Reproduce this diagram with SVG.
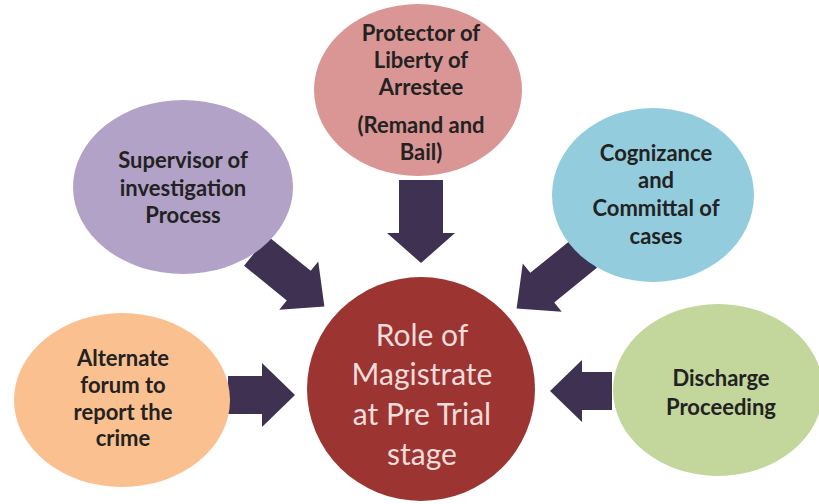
<svg xmlns="http://www.w3.org/2000/svg" width="819" height="504" viewBox="0 0 819 504">
<style>
.arrow{fill:#3F3151}
.lbl{font-family:Lato,"Liberation Sans",sans-serif;font-weight:bold;font-size:22px;fill:#222222;text-anchor:middle}
.ctr{font-family:Lato,"Liberation Sans",sans-serif;font-size:30px;fill:#F2DCDB;text-anchor:middle}
</style>
<rect width="819" height="504" fill="#FFFFFF"/>
<g id="connectors">
<path class="arrow" transform="translate(421,180) rotate(90)" d="M0,-22 L53,-22 L53,-34 L83,0 L53,34 L53,22 L0,22 Z"/>
<path class="arrow" transform="translate(256,251) rotate(39)" d="M0,-19 L55,-19 L55,-31 L88,0 L55,31 L55,19 L0,19 Z"/>
<path class="arrow" transform="translate(585,253) rotate(141)" d="M0,-19 L55,-19 L55,-31 L88,0 L55,31 L55,19 L0,19 Z"/>
<path class="arrow" transform="translate(228,395)" d="M0,-19 L34,-19 L34,-32 L67,0 L34,32 L34,19 L0,19 Z"/>
<path class="arrow" transform="translate(612,391) rotate(180)" d="M0,-19 L30,-19 L30,-31 L62,0 L30,31 L30,19 L0,19 Z"/>
</g>
<g id="node-protector">
<ellipse cx="418" cy="90" rx="104" ry="86" fill="#D99694"/>
<text class="lbl" x="421" y="41">Protector of</text>
<text class="lbl" x="421" y="68">Liberty of</text>
<text class="lbl" x="421" y="95">Arrestee</text>
<text class="lbl" x="421" y="133">(Remand and</text>
<text class="lbl" x="421" y="160">Bail)</text>
</g>
<g id="node-supervisor">
<ellipse cx="183" cy="187" rx="110" ry="87" fill="#B3A2C7"/>
<text class="lbl" x="183" y="168">Supervisor of</text>
<text class="lbl" x="183" y="196">investigation</text>
<text class="lbl" x="183" y="223">Process</text>
</g>
<g id="node-cognizance">
<ellipse cx="653" cy="195" rx="101" ry="87" fill="#93CDDD"/>
<text class="lbl" x="656" y="161">Cognizance</text>
<text class="lbl" x="656" y="188">and</text>
<text class="lbl" x="656" y="216">Committal of</text>
<text class="lbl" x="656" y="244">cases</text>
</g>
<g id="node-alternate">
<ellipse cx="122" cy="400" rx="108" ry="87" fill="#FAC090"/>
<text class="lbl" x="123" y="366">Alternate</text>
<text class="lbl" x="123" y="393">forum to</text>
<text class="lbl" x="123" y="420">report the</text>
<text class="lbl" x="123" y="446">crime</text>
</g>
<g id="node-discharge">
<ellipse cx="718" cy="390" rx="105" ry="86" fill="#C3D69B"/>
<text class="lbl" x="721" y="386">Discharge</text>
<text class="lbl" x="721" y="415">Proceeding</text>
</g>
<g id="node-center">
<ellipse cx="421" cy="389" rx="114" ry="112" fill="#9C3431"/>
<text class="ctr" x="422" y="346">Role of</text>
<text class="ctr" x="422" y="385">Magistrate</text>
<text class="ctr" x="422" y="425">at Pre Trial</text>
<text class="ctr" x="422" y="465">stage</text>
</g>
</svg>
